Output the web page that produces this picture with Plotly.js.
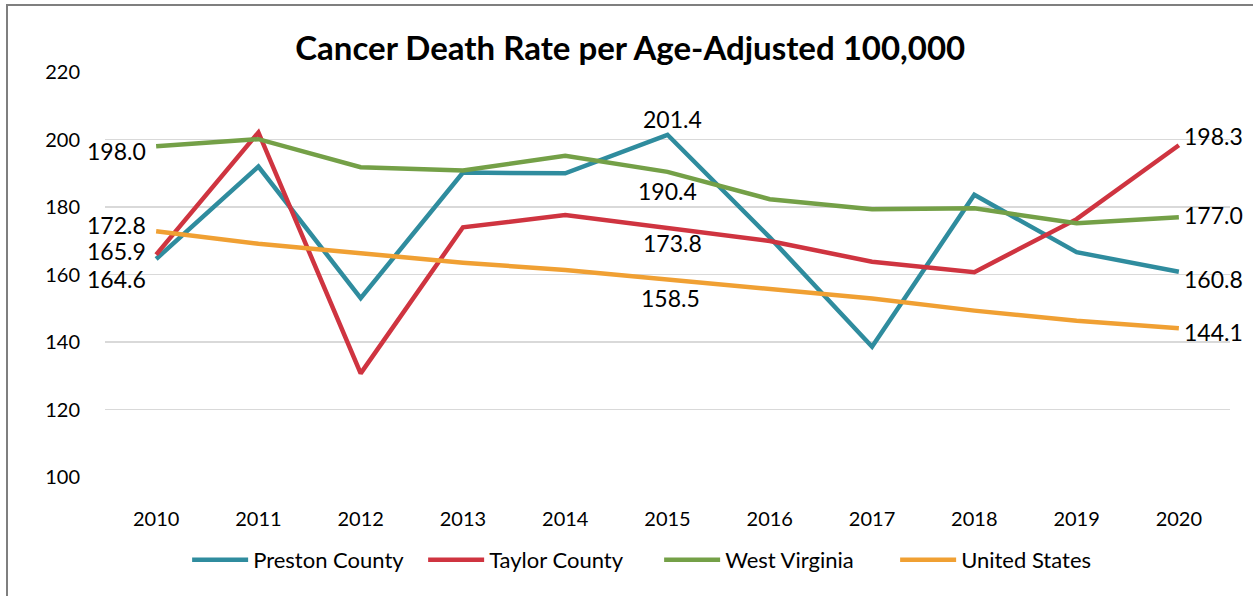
<!DOCTYPE html>
<html><head><meta charset="utf-8">
<script src="https://cdn.plot.ly/plotly-3.0.1.min.js"></script>
<style>
html,body{margin:0;padding:0;background:#fff;}
#wrap{position:relative;width:1253px;height:596px;overflow:hidden;}
#chart{position:absolute;left:0;top:0;width:1253px;height:596px;}
#frame{position:absolute;left:6px;top:4px;width:1300px;height:700px;border:2px solid #7f7f7f;pointer-events:none;}
</style></head>
<body><div id="wrap"><div id="chart"></div><div id="frame"></div></div>
<script>
const years = ['2010','2011','2012','2013','2014','2015','2016','2017','2018','2019','2020'];
const preston = [164.6,192.0,153.0,190.2,190.0,201.4,171.0,138.6,183.6,166.6,160.8];
const taylor  = [165.9,202.1,130.7,174.0,177.6,173.8,169.9,163.8,160.7,176.4,198.3];
const wv      = [198.0,200.1,191.8,190.8,195.2,190.4,182.3,179.3,179.6,175.2,177.0];
const us      = [172.8,169.1,166.3,163.5,161.3,158.5,155.6,152.9,149.3,146.3,144.1];
const names = ['Preston County','Taylor County','West Virginia','United States'];
const colors = ['#2f8c9e','#cf3440','#74a047','#f0a033'];
const series = [preston,taylor,wv,us];
const font = 'Lato, "Open Sans", sans-serif';

// label placement: [index, xanchor, xshift, yshift] per series
const labelSpec = [
  [[0,'right',-9,-20],[5,'center',5,16],[10,'left',4,-7]],
  [[0,'right',-9,4],[5,'center',5,-15],[10,'left',4,9]],
  [[0,'right',-9,-5],[5,'center',0,-19],[10,'left',4,2]],
  [[0,'right',-9,6],[5,'center',3,-18],[10,'left',4,-4]]
];

const traces = series.map((vals,k)=>({
  type:'scatter', mode:'lines', name:names[k], x:years, y:vals,
  line:{color:colors[k], width:4.5}, hoverinfo:'skip'
}));
const annotations = [];
series.forEach((vals,k)=>{
  labelSpec[k].forEach((s)=>{
    const i = s[0];
    annotations.push({x:i, y:vals[i], xref:'x', yref:'y', text:vals[i].toFixed(1),
      showarrow:false, xanchor:s[1], yanchor:'middle', xshift:s[2], yshift:s[3], borderpad:0,
      font:{family:font, size:23, color:'#000'}});
  });
});
const layout = {
  width:1253, height:596,
  margin:{l:105, r:23, t:72, b:119},
  paper_bgcolor:'#fff', plot_bgcolor:'#fff',
  title:{text:'<b>Cancer Death Rate per Age-Adjusted 100,000</b>', x:0.503, xanchor:'center', y:0.918, yanchor:'middle',
         font:{family:font, size:33, color:'#000'}},
  xaxis:{type:'category', range:[-0.5,10.5], showgrid:false, zeroline:false, showline:false, ticks:'',
         tickfont:{family:font, size:20, color:'#000'}, ticklabelstandoff:28},
  yaxis:{range:[100,220], dtick:20, tick0:100, showgrid:true, gridcolor:'#d9d9d9', gridwidth:1.5, zeroline:false,
         showline:false, ticks:'', tickfont:{family:font, size:20, color:'#000'}, ticklabelstandoff:24},
  showlegend:true,
  legend:{orientation:'h', x:0.073, xanchor:'left', y:-0.205, yanchor:'middle', entrywidth:165,
          font:{family:font, size:22, color:'#000'}, itemwidth:56, tracegroupgap:0},
  annotations: annotations
};
Plotly.newPlot('chart', traces, layout, {displayModeBar:false, staticPlot:true});
</script></body></html>
